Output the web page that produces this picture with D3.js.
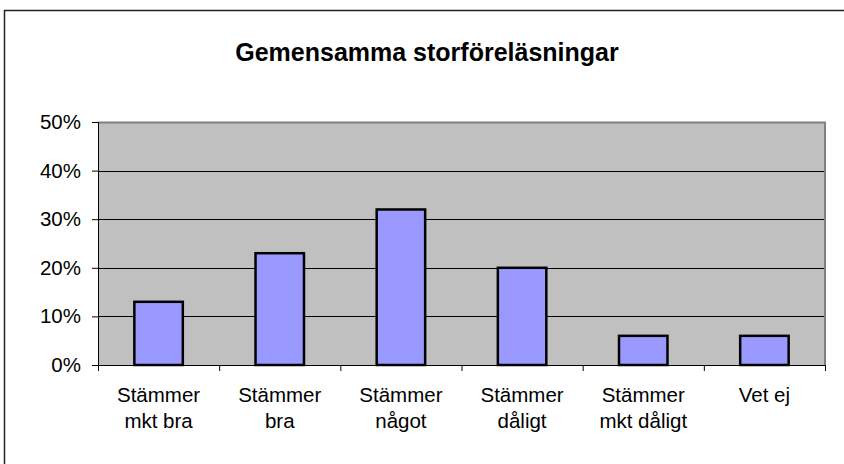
<!DOCTYPE html>
<html><head><meta charset="utf-8">
<script src="https://cdn.jsdelivr.net/npm/d3@7"></script>
<style>html,body{margin:0;padding:0;background:#fff;}svg{display:block;}</style>
</head><body>
<script>
const title = "Gemensamma storföreläsningar";
const categories = [["Stämmer","mkt bra"],["Stämmer","bra"],["Stämmer","något"],["Stämmer","dåligt"],["Stämmer","mkt dåligt"],["Vet ej"]];
const values = [0.13, 0.23, 0.32, 0.20, 0.06, 0.06];
const yTicks = [0, 0.1, 0.2, 0.3, 0.4, 0.5];

const W = 844, H = 464;
const m = {left: 98, right: 19, top: 122, bottom: 99};
const svg = d3.select("body").append("svg").attr("width", W).attr("height", H);
svg.append("rect").attr("x", 4.5).attr("y", 10.5).attr("width", W + 10).attr("height", H + 10)
  .attr("fill", "#fff").attr("stroke", "#222").attr("stroke-width", 1.5);

const x = d3.scaleBand().domain(d3.range(categories.length)).range([m.left, W - m.right]);
const y = d3.scaleLinear().domain([0, 0.5]).range([H - m.bottom, m.top]);

svg.append("rect").attr("x", m.left).attr("y", m.top).attr("width", W - m.right - m.left)
  .attr("height", H - m.bottom - m.top).attr("fill", "#C0C0C0");

// gridlines
svg.append("g").selectAll("line").data(yTicks.filter(d => d > 0 && d < 0.5)).join("line")
  .attr("x1", m.left).attr("x2", W - m.right)
  .attr("y1", d => Math.round(y(d)) + 0.5).attr("y2", d => Math.round(y(d)) + 0.5)
  .attr("stroke", "#000").attr("stroke-width", 1);
// plot border top & right
svg.append("path").attr("d", `M${m.left},${m.top + 0.5}H${W - m.right}V${H - m.bottom}`)
  .attr("fill", "none").attr("stroke", "#808080").attr("stroke-width", 2);

// bars
const bw = x.bandwidth() * 0.4;
svg.append("g").selectAll("rect").data(values).join("rect")
  .attr("x", (d, i) => x(i) + x.bandwidth() / 2 - bw / 2)
  .attr("y", d => y(d))
  .attr("width", bw)
  .attr("height", d => y(0) - y(d))
  .attr("fill", "#9999FF").attr("stroke", "#000").attr("stroke-width", 2.5);

// y axis
const yAxis = d3.axisLeft(y).tickValues(yTicks).tickFormat(d3.format(".0%")).tickSize(6).tickPadding(11);
const gy = svg.append("g").attr("transform", `translate(${m.left},0)`).call(yAxis);
gy.selectAll("text").attr("font-family", "Liberation Sans, Arial, sans-serif").attr("font-size", 20.5).attr("fill", "#000");
gy.select(".domain").attr("stroke", "#000");

// x axis
const xAxis = d3.axisBottom(d3.scaleLinear().domain([0, categories.length]).range([m.left, W - m.right]))
  .tickValues(d3.range(categories.length + 1)).tickSize(6).tickFormat("");
const gx = svg.append("g").attr("transform", `translate(0,${H - m.bottom})`).call(xAxis);
gx.select(".domain").attr("stroke", "#000");

// x labels
const lbl = svg.append("g").selectAll("text").data(categories).join("text")
  .attr("x", (d, i) => x(i) + x.bandwidth() / 2)
  .attr("y", 402)
  .attr("text-anchor", "middle")
  .attr("font-family", "Liberation Sans, Arial, sans-serif").attr("font-size", 20.5).attr("fill", "#000");
lbl.selectAll("tspan").data(d => d).join("tspan")
  .attr("x", function() { return this.parentNode.getAttribute("x"); })
  .attr("dy", (d, i) => i === 0 ? 0 : 26)
  .text(d => d);

svg.append("text").attr("x", 427).attr("y", 61).attr("text-anchor", "middle")
  .attr("font-family", "Liberation Sans, Arial, sans-serif").attr("font-weight", "bold").attr("font-size", 25)
  .attr("fill", "#000").text(title);
</script>
</body></html>
